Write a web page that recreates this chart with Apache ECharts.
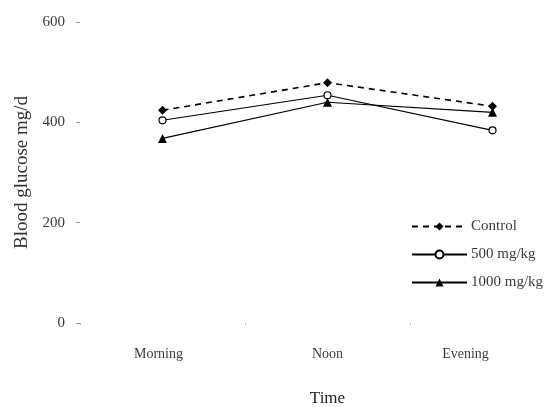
<!DOCTYPE html>
<html>
<head>
<meta charset="utf-8">
<script src="https://cdn.jsdelivr.net/npm/echarts@6/dist/echarts.min.js"></script>
<style>
html,body{margin:0;padding:0;background:#fff;}
#c{width:550px;height:407px;}
</style>
</head>
<body>
<div id="c"></div>
<script>
var categories = ['Morning', 'Noon', 'Evening'];
var controlValues = [424, 479, 432];
var dose500Values = [404, 454, 384];
var dose1000Values = [368, 440, 420];
var yTicks = [0, 200, 400, 600];
var seriesNames = ['Control', '500 mg/kg', '1000 mg/kg'];

var font = 'Liberation Serif';
var txt = '#3a3a3a';
var chart = echarts.init(document.getElementById('c'));
chart.setOption({
  backgroundColor: '#fff',
  animation: false,
  grid: { left: 80, width: 495, top: 22, height: 301, containLabel: false, outerBoundsMode: 'none' },
  legend: {
    orient: 'vertical',
    left: 406,
    top: 214,
    itemWidth: 55,
    itemHeight: 10,
    itemGap: 13,
    textStyle: { fontFamily: font, fontSize: 15, color: txt, padding: [0, 0, 0, -1] },
    data: seriesNames
  },
  xAxis: {
    type: 'category',
    data: categories,
    boundaryGap: true,
    name: 'Time',
    nameLocation: 'middle',
    nameGap: 67,
    nameTextStyle: { fontFamily: font, fontSize: 17, color: '#222' },
    axisLine: { show: false },
    axisTick: { show: true, length: 2, lineStyle: { color: '#bbb' } },
    axisLabel: {
      margin: 24,
      fontFamily: font, fontSize: 14, color: txt,
      formatter: function (v) {
        if (v === 'Morning') return '{m|' + v + '}';
        if (v === 'Evening') return '{e|' + v + '}';
        return '{n|' + v + '}';
      },
      rich: {
        m: { fontFamily: font, fontSize: 14, color: txt, padding: [0, 8, 0, 0] },
        n: { fontFamily: font, fontSize: 14, color: txt },
        e: { fontFamily: font, fontSize: 14, color: txt, padding: [0, 54, 0, 0] }
      }
    },
    splitLine: { show: false }
  },
  yAxis: {
    type: 'value',
    min: yTicks[0],
    max: yTicks[yTicks.length - 1],
    interval: 200,
    name: 'Blood glucose mg/d',
    nameLocation: 'middle',
    nameGap: 48,
    nameTextStyle: { fontFamily: font, fontSize: 19, color: '#333' },
    axisLine: { show: false },
    axisTick: { show: true, length: 4, lineStyle: { color: '#999' } },
    axisLabel: { margin: 15, fontFamily: font, fontSize: 15, color: txt },
    splitLine: { show: false }
  },
  series: [
    {
      name: seriesNames[0], type: 'line', data: controlValues,
      symbol: 'diamond', symbolSize: 9,
      itemStyle: { color: '#000' },
      lineStyle: { color: '#000', width: 1.6, type: [6, 5] }
    },
    {
      name: seriesNames[1], type: 'line', data: dose500Values,
      symbol: 'circle', symbolSize: 7,
      itemStyle: { color: '#fff', borderColor: '#000', borderWidth: 1.2 },
      lineStyle: { color: '#000', width: 1.1 }
    },
    {
      name: seriesNames[2], type: 'line', data: dose1000Values,
      symbol: 'triangle', symbolSize: 9,
      itemStyle: { color: '#000' },
      lineStyle: { color: '#000', width: 1.2 }
    }
  ]
});
</script>
</body>
</html>
